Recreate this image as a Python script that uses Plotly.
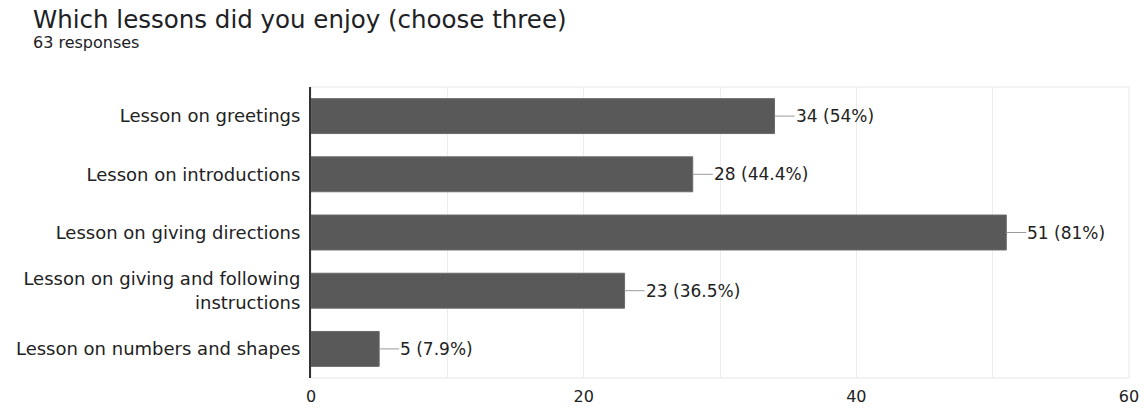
import plotly.graph_objects as go

categories = [
    "Lesson on greetings",
    "Lesson on introductions",
    "Lesson on giving directions",
    "Lesson on giving and following<br>instructions",
    "Lesson on numbers and shapes",
]
counts = [34, 28, 51, 23, 5]
percents = ["54%", "44.4%", "81%", "36.5%", "7.9%"]
x_ticks = [0, 20, 40, 60]

title_text = "Which lessons did you enjoy (choose three)"
subtitle_text = "63 responses"

FONT = "DejaVu Sans, Liberation Sans, Arial"
W, H = 1144, 408
ML, MR, MT, MB = 311, 15, 87, 30
PW, PH = W - ML - MR, H - MT - MB


def px_to_paper_x(px):
    return (px - ML) / PW


def px_to_paper_y(py):
    return 1 + (MT - py) / PH


fig = go.Figure()
fig.add_trace(go.Bar(
    x=counts, y=categories, orientation="h",
    marker=dict(color="#595959", line=dict(color="#6a6a6a", width=1)),
    hoverinfo="skip",
))

for c, cat, p in zip(counts, categories, percents):
    fig.add_annotation(
        x=c, y=cat, xref="x", yref="y",
        text=f"{c} ({p})", showarrow=True, arrowhead=0, arrowwidth=1,
        arrowcolor="#9a9a9a", ax=20, ay=0, xanchor="left", standoff=0,
        startstandoff=0, borderpad=0,
        font=dict(family=FONT, size=17, color="#222222"),
    )

fig.add_annotation(
    text=title_text, xref="paper", yref="paper",
    x=px_to_paper_x(32), y=px_to_paper_y(20), xanchor="left", yanchor="middle",
    showarrow=False, borderpad=0,
    font=dict(family=FONT, size=24.5, color="#202124"),
)
fig.add_annotation(
    text=subtitle_text, xref="paper", yref="paper",
    x=px_to_paper_x(32), y=px_to_paper_y(42), xanchor="left", yanchor="middle",
    showarrow=False, borderpad=0,
    font=dict(family=FONT, size=16, color="#202124"),
)

fig.add_shape(type="rect", xref="x domain", yref="y domain", x0=0, x1=1, y0=0, y1=1,
              line=dict(color="#e6e6e6", width=1), layer="below")

fig.update_layout(
    width=W, height=H,
    margin=dict(l=ML, r=MR, t=MT, b=MB),
    paper_bgcolor="white", plot_bgcolor="white",
    bargap=0.4, showlegend=False,
)
fig.update_xaxes(
    range=[0, 60], tickvals=x_ticks, ticktext=[str(v) for v in x_ticks],
    showgrid=True, gridcolor="#ececec", zeroline=False, showline=False,
    minor=dict(dtick=10, showgrid=True, gridcolor="#ececec"),
    tickfont=dict(family=FONT, size=16, color="#222222"),
    ticks="", ticklen=0, automargin=False, ticklabelstandoff=7,
)
fig.update_yaxes(
    autorange="reversed", showline=True, linecolor="#333333", linewidth=2,
    showgrid=False, ticks="", ticklabelstandoff=5, automargin=False,
    tickfont=dict(family=FONT, size=18, color="#222222"),
)

fig.write_html("out.html", config={"displayModeBar": False},
               post_script="document.body.style.margin='0';")
